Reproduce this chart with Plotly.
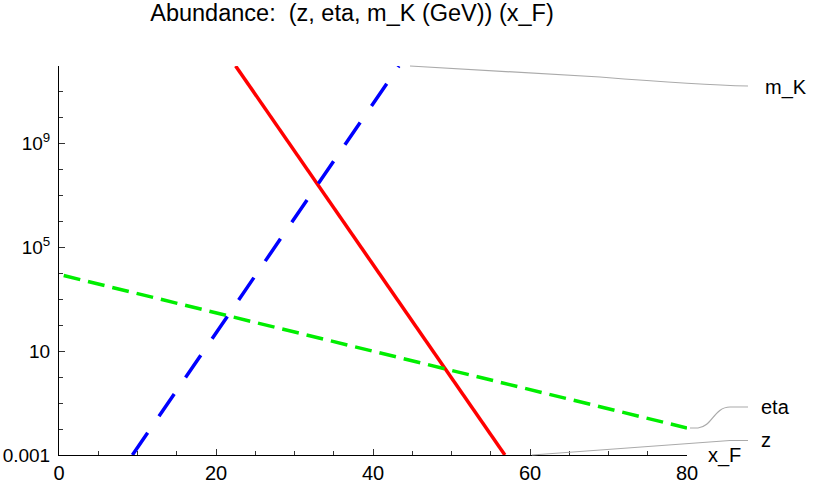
import plotly.graph_objects as go

# ---- data ----
z_x = [22.5, 56.8]
z_y = [1e12, 1e-3]

eta_x = [0.6, 80.0]
eta_y = [8300.0, 0.011]

mK_x = [9.35, 43.3]
mK_y = [1e-3, 1e12]

x_tickvals = [0, 20, 40, 60, 80]
y_tickvals = [1e-3, 10, 1e5, 1e9]
y_ticktext = ["0.001", "10", "10<sup>5</sup>", "10<sup>9</sup>"]
y_minor = [10.0 ** k for k in range(-3, 13)]

series_labels = ["z", "eta", "m_K"]

FONT = "Liberation Sans, Arial, Helvetica, sans-serif"

# plot-area geometry (pixels)
W, H = 822, 485
L, R, T, B = 59, 135, 66, 30
PW, PH = W - L - R, H - T - B


def px(xp):
    return (xp - L) / PW


def py(yp):
    return (H - B - yp) / PH


fig = go.Figure()
fig.add_trace(go.Scatter(x=z_x, y=z_y, mode="lines", name="z",
                         line=dict(color="#ff0000", width=3.5)))
fig.add_trace(go.Scatter(x=eta_x, y=eta_y, mode="lines", name="eta",
                         line=dict(color="#00ee00", width=3.5, dash="17px,8px")))
fig.add_trace(go.Scatter(x=mK_x, y=mK_y, mode="lines", name="m_K",
                         line=dict(color="#0000ff", width=3.5, dash="27px,20px")))

# leader lines (paper coords) to the right-hand labels
lead = dict(color="#aaaaaa", width=1.2)
shapes = [
    dict(type="path", xref="paper", yref="paper", line=lead,
         path=f"M {px(410)} {py(66)} L {px(600)} {py(77)} Q {px(700)} {py(85)} {px(748)} {py(86)}"),
    dict(type="path", xref="paper", yref="paper", line=lead,
         path=f"M {px(690)} {py(428)} L {px(698)} {py(428)} C {px(712)} {py(427)} {px(714)} {py(407)} {px(730)} {py(407)} L {px(748)} {py(407)}"),
    dict(type="path", xref="paper", yref="paper", line=lead,
         path=f"M {px(532)} {py(455)} L {px(730)} {py(440.5)} L {px(748)} {py(440.5)}"),
]

annotations = [
    dict(text=series_labels[2], xref="paper", yref="paper", x=px(763), y=py(87),
         xanchor="left", yanchor="middle", showarrow=False, font=dict(size=20)),
    dict(text=series_labels[1], xref="paper", yref="paper", x=px(759), y=py(407),
         xanchor="left", yanchor="middle", showarrow=False, font=dict(size=20)),
    dict(text=series_labels[0], xref="paper", yref="paper", x=px(759), y=py(440),
         xanchor="left", yanchor="middle", showarrow=False, font=dict(size=20)),
    dict(text="x_F", xref="paper", yref="paper", x=px(706), y=py(456),
         xanchor="left", yanchor="middle", showarrow=False, font=dict(size=20)),
]

fig.update_layout(
    width=W, height=H,
    margin=dict(l=L, r=R, t=T, b=B, pad=0, autoexpand=False),
    paper_bgcolor="white", plot_bgcolor="white",
    font=dict(family=FONT, size=20, color="black"),
    showlegend=False,
    hovermode=False,
    title=dict(text="Abundance:  (z, eta, m_K (GeV)) (x_F)",
               x=352 / W, xanchor="center", y=1 - 13 / H, yanchor="middle",
               font=dict(size=23.5), automargin=False),
    shapes=shapes,
    annotations=annotations,
)

fig.update_xaxes(
    range=[0, 80], showgrid=False, zeroline=False, automargin=False,
    showline=True, linecolor="black", linewidth=1,
    ticks="inside", ticklen=6, tickcolor="#333", tickwidth=1,
    tickmode="array", tickvals=x_tickvals,
    minor=dict(tickmode="linear", tick0=0, dtick=5, ticks="inside",
               ticklen=4, tickcolor="#333", showgrid=False),
    tickfont=dict(size=20),
)
fig.update_yaxes(
    type="log", range=[-3, 12], showgrid=False, zeroline=False, automargin=False,
    showline=True, linecolor="black", linewidth=1,
    ticks="inside", ticklen=6, tickcolor="#333", tickwidth=1,
    tickmode="array", tickvals=y_tickvals, ticktext=y_ticktext,
    minor=dict(tickmode="array", tickvals=y_minor, ticks="inside",
               ticklen=4, tickcolor="#333", showgrid=False),
    tickfont=dict(size=19),
    ticklabelstandoff=4,
)

fig.write_html(
    "out.html",
    config={"displayModeBar": False, "staticPlot": True},
    post_script="document.body.style.margin='0';document.body.style.overflow='hidden';",
)
